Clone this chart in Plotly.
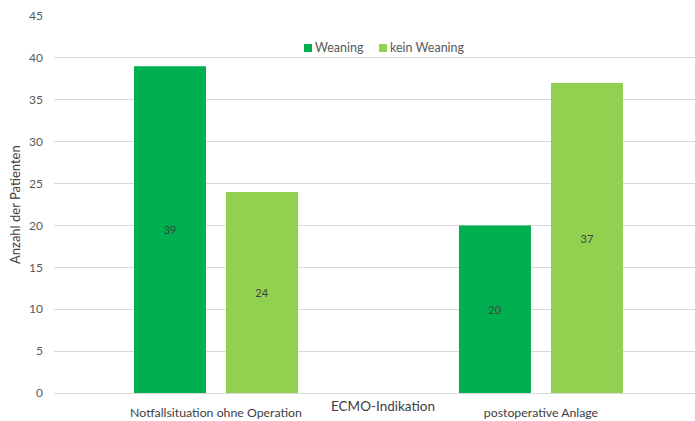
import plotly.graph_objects as go

categories = ["Notfallsituation ohne Operation", "postoperative Anlage"]
weaning = [39, 20]
kein_weaning = [24, 37]
series_names = ["Weaning", "kein Weaning"]
y_ticks = [0, 5, 10, 15, 20, 25, 30, 35, 40, 45]

FONT = "Lato, Carlito, 'Open Sans', sans-serif"
C_DARK = "#00B050"
C_LIGHT = "#92D050"
TEXT = "#404040"
TICK = "#595959"
GRID = "#D9D9D9"

W, H = 695, 421
ml, mr, mt, mb = 54, 0, 16, 28

bar_w = 0.2215
colors = [C_DARK, C_LIGHT]
offsets = [-0.2523, 0.0308]

fig = go.Figure()
for name, vals, col, off in zip(series_names, [weaning, kein_weaning], colors, offsets):
    fig.add_trace(go.Bar(
        x=categories, y=vals, name=name,
        marker=dict(color=col, line=dict(width=0)),
        width=bar_w, offset=off,
        text=[str(v) for v in vals], textposition="inside",
        insidetextanchor="middle", textangle=0,
        textfont=dict(family=FONT, size=11, color=TEXT),
        showlegend=False,
    ))

plot_w = W - ml - mr
plot_h = H - mt - mb


def px_x(p):
    return (p - ml) / plot_w


def px_y(p):
    return (H - mb - p) / plot_h


# Compact legend: small colour squares followed by their series names
legend_y = 48
legend_items = [(304, series_names[0], C_DARK), (379, series_names[1], C_LIGHT)]
shapes = []
annotations = []
for x0, name, col in legend_items:
    shapes.append(dict(
        type="rect", xref="paper", yref="paper",
        x0=px_x(x0), x1=px_x(x0 + 8),
        y0=px_y(legend_y + 4), y1=px_y(legend_y - 4),
        fillcolor=col, line=dict(width=0),
    ))
    annotations.append(dict(
        text=name, xref="paper", yref="paper",
        x=px_x(x0 + 9), y=px_y(legend_y), xanchor="left", yanchor="middle",
        showarrow=False, font=dict(family=FONT, size=12.5, color=TICK),
    ))

annotations += [
    dict(text="ECMO-Indikation", xref="paper", yref="paper",
         x=px_x(383), y=px_y(406), xanchor="center", yanchor="middle",
         showarrow=False, font=dict(family=FONT, size=13.5, color=TEXT)),
    dict(text="Anzahl der Patienten", xref="paper", yref="paper",
         x=px_x(15), y=px_y(205), xanchor="center", yanchor="middle",
         textangle=-90, showarrow=False,
         font=dict(family=FONT, size=13, color=TEXT)),
]

fig.update_layout(
    width=W, height=H,
    margin=dict(l=ml, r=mr, t=mt, b=mb, autoexpand=False),
    paper_bgcolor="white", plot_bgcolor="white",
    barmode="overlay",
    font=dict(family=FONT, size=12, color=TICK),
    showlegend=False,
    xaxis=dict(
        type="category", range=[-0.4985, 1.474],
        showgrid=False, zeroline=False,
        showline=True, linecolor=GRID, linewidth=1,
        ticks="", ticklabelstandoff=8,
        tickfont=dict(family=FONT, size=12.3, color=TEXT),
    ),
    yaxis=dict(
        range=[0, 45], tickvals=y_ticks,
        showgrid=True, gridcolor=GRID, gridwidth=1,
        zeroline=False, showline=False, ticks="",
        ticklabelstandoff=10,
        tickfont=dict(family=FONT, size=12, color=TICK),
    ),
    shapes=shapes,
    annotations=annotations,
)

fig.write_html("out.html")
